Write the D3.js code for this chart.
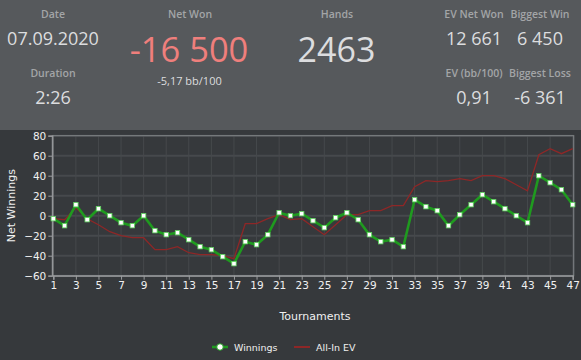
<!DOCTYPE html>
<html>
<head>
<meta charset="utf-8">
<script src="https://cdn.jsdelivr.net/npm/d3@7"></script>
<style>
    body { margin: 0; background: #36393c; }
    svg { display: block; }
    .head-label { font-family: "Open Sans", sans-serif; font-weight: 600; font-size: 10.5px; fill: #a3a5a7; }
    .head-value { font-family: "Open Sans", sans-serif; font-size: 18px; fill: #dcdddf; }
    .axis text { font-family: "DejaVu Sans", Verdana, sans-serif; font-size: 10.5px; fill: #f0f0f0; }
    .grid line { stroke: #46494c; }
</style>
</head>
<body>
<div class="panel"></div>
<script>

const tournaments = d3.range(1, 48);

const winnings = [
    -3, -10, 11, -4, 7, 0, -7, -10, 0, -15,
    -19, -17, -24, -31, -34, -41, -48, -26, -29, -19,
    3, 0, 2, -5, -12, -2, 3, -4, -19, -26,
    -24, -31, 16, 9, 5, -10, 1, 11, 21, 14,
    7, 0, -7, 40, 33, 26, 11
];

const allInEV = [
    -3, -4, 8, -3, -9, -16, -20, -22, -22, -34,
    -34, -31, -37, -39, -39, -40, -43, -8, -8, -3,
    1, -4, -3, -11, -19, -9, 1, 1, 5, 5,
    10, 10, 29, 35, 34, 35, 37, 35, 40, 40,
    37, 31, 25, 61, 67, 62, 67
];

const yTicks = [-60, -40, -20, 0, 20, 40, 60, 80];
const xTicks = d3.range(1, 48, 2);

const stats = [
    { label: "Date", value: "07.09.2020", x: 53, row: 0 },
    { label: "Duration", value: "2:26", x: 53, row: 1 },
    { label: "EV Net Won", value: "12 661", x: 474, row: 0 },
    { label: "Biggest Win", value: "6 450", x: 540, row: 0 },
    { label: "EV (bb/100)", value: "0,91", x: 474, row: 1 },
    { label: "Biggest Loss", value: "-6 361", x: 540, row: 1 }
];

const width = 581;
const height = 360;

const svg = d3.select(".panel").append("svg")
    .attr("width", width)
    .attr("height", height);

// Header ////////////////////////////////////

svg.append("rect")
    .attr("width", width)
    .attr("height", 130)
    .attr("fill", "#56595c");

const head = svg.append("g");

stats.forEach(s => {
    head.append("text")
        .attr("class", "head-label")
        .attr("x", s.x)
        .attr("y", 18 + s.row * 59)
        .attr("text-anchor", "middle")
        .text(s.label);
    head.append("text")
        .attr("class", "head-value")
        .attr("x", s.x)
        .attr("y", 44.5 + s.row * 59)
        .attr("text-anchor", "middle")
        .text(s.value);
});

head.append("text")
    .attr("class", "head-label")
    .attr("x", 190).attr("y", 18)
    .attr("text-anchor", "middle")
    .text("Net Won");

head.append("text")
    .attr("x", 189).attr("y", 61.5)
    .attr("text-anchor", "middle")
    .style("font-family", "Open Sans, sans-serif")
    .style("font-size", "34.5px")
    .style("fill", "#ef7f7c")
    .text("-16 500");

head.append("text")
    .attr("x", 189.5).attr("y", 85)
    .attr("text-anchor", "middle")
    .style("font-family", "Open Sans, sans-serif")
    .style("font-size", "11px")
    .style("fill", "#dcdddf")
    .text("-5,17 bb/100");

head.append("text")
    .attr("class", "head-label")
    .attr("x", 337).attr("y", 18)
    .attr("text-anchor", "middle")
    .text("Hands");

head.append("text")
    .attr("x", 336.5).attr("y", 61.5)
    .attr("text-anchor", "middle")
    .style("font-family", "Open Sans, sans-serif")
    .style("font-size", "34px")
    .style("fill", "#dcdddf")
    .text("2463");

// Chart ////////////////////////////////////

const x = d3.scaleLinear().domain([1, 47]).range([53.3, 572.7]);
const y = d3.scaleLinear().domain([-60, 80]).range([275.7, 135.7]);

const frame = { left: 52.3, right: 573.7 };

// Grid lines

const grid = svg.append("g").attr("class", "grid");

grid.selectAll(".h")
    .data(yTicks)
    .join("line")
    .attr("x1", frame.left).attr("x2", frame.right)
    .attr("y1", d => y(d)).attr("y2", d => y(d))
    .attr("stroke-width", 2);

grid.selectAll(".v")
    .data(xTicks)
    .join("line")
    .attr("x1", d => x(d)).attr("x2", d => x(d))
    .attr("y1", y(80)).attr("y2", y(-60))
    .attr("stroke-width", 1);

// Frame

svg.append("rect")
    .attr("x", frame.left)
    .attr("y", y(80))
    .attr("width", frame.right - frame.left)
    .attr("height", y(-60) - y(80))
    .attr("fill", "none")
    .attr("stroke", "#7b7e81")
    .attr("stroke-width", 1.2);

// Axes

const yAxis = svg.append("g")
    .attr("class", "axis")
    .attr("transform", `translate(${ frame.left },0)`)
    .call(d3.axisLeft(y).tickValues(yTicks).tickSize(4).tickPadding(2));

const xAxis = svg.append("g")
    .attr("class", "axis")
    .attr("transform", `translate(0,${ y(-60) })`)
    .call(d3.axisBottom(x).tickValues(xTicks).tickSize(4).tickPadding(2));

[yAxis, xAxis].forEach(a => {
    a.select(".domain").attr("stroke", "#9a9c9e").attr("stroke-width", 1.3);
    a.selectAll(".tick line").attr("stroke", "#9a9c9e");
});

svg.append("text")
    .attr("transform", `translate(15,${ (y(80) + y(-60)) / 2 }) rotate(-90)`)
    .attr("text-anchor", "middle")
    .style("font-family", "DejaVu Sans, Verdana, sans-serif")
    .style("font-size", "11px")
    .style("fill", "#f0f0f0")
    .text("Net Winnings");

svg.append("text")
    .attr("x", 315)
    .attr("y", 320)
    .attr("text-anchor", "middle")
    .style("font-family", "DejaVu Sans, Verdana, sans-serif")
    .style("font-size", "11px")
    .style("fill", "#f0f0f0")
    .text("Tournaments");

// Lines

const line = d3.line()
    .x((d, i) => x(tournaments[i]))
    .y(d => y(d));

svg.append("path")
    .attr("d", line(allInEV))
    .attr("fill", "none")
    .attr("stroke", "#8e2727")
    .attr("stroke-width", 1.3);

svg.append("path")
    .attr("d", line(winnings))
    .attr("fill", "none")
    .attr("stroke", "#1f9a1f")
    .attr("stroke-width", 2.6);

svg.append("g")
    .selectAll("rect")
    .data(winnings)
    .join("rect")
    .attr("x", (d, i) => x(tournaments[i]) - 2.2)
    .attr("y", d => y(d) - 2.2)
    .attr("width", 4.4)
    .attr("height", 4.4)
    .attr("fill", "#ffffff")
    .attr("stroke", "#5fd35f")
    .attr("stroke-width", 0.8);

// Legend

const legend = svg.append("g")
    .style("font-family", "DejaVu Sans, Verdana, sans-serif")
    .style("font-size", "9.5px")
    .style("fill", "#f0f0f0");

legend.append("line")
    .attr("x1", 212).attr("x2", 228)
    .attr("y1", 347).attr("y2", 347)
    .attr("stroke", "#1f9a1f").attr("stroke-width", 2.6);
legend.append("circle")
    .attr("cx", 220).attr("cy", 347).attr("r", 3.3)
    .attr("fill", "#ffffff").attr("stroke", "#1f9a1f").attr("stroke-width", 1);
legend.append("text")
    .attr("x", 234).attr("y", 350.5)
    .text("Winnings");

legend.append("line")
    .attr("x1", 294).attr("x2", 310)
    .attr("y1", 347).attr("y2", 347)
    .attr("stroke", "#8e2727").attr("stroke-width", 2);
legend.append("text")
    .attr("x", 316).attr("y", 350.5)
    .text("All-In EV");

</script>
</body>
</html>
